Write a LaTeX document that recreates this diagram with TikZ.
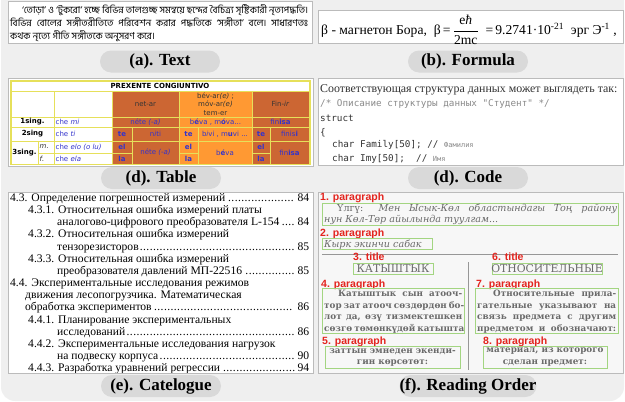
\documentclass[tikz,border=0pt]{standalone}
\usepackage{fontspec}
\setmainfont{Liberation Serif}
\newfontfamily\bnfont[Script=Bengali]{Hind Siliguri}
\newfontfamily\tblfont{DejaVu Sans}
\newfontfamily\codefont{DejaVu Sans Mono}
\newfontfamily\lblfont{Liberation Sans}
\newfontfamily\scanfont{DejaVu Serif}
\definecolor{bgc}{HTML}{EFEFEF}
\definecolor{pillc}{HTML}{D9D9D9}
\definecolor{panelc}{HTML}{BBBBBB}
\definecolor{tdark}{HTML}{CC6633}
\definecolor{tlight}{HTML}{FF9933}
\definecolor{tyel}{HTML}{E6E05A}
\definecolor{tblue}{HTML}{3333CC}
\definecolor{redc}{HTML}{E3241E}
\definecolor{grn}{HTML}{A3D581}
\definecolor{scan}{HTML}{6A6A6A}
\definecolor{cgray}{HTML}{8A8A8A}
\definecolor{ctext}{HTML}{333333}
\newcommand\tc[6]{\draw[tline,fill=#5] (#1,#2) rectangle (#3,#4); \node[ttext] at ({(#1+#3)/2},{(#2+#4)/2}) {#6};}
\newcommand\tcl[6]{\draw[tline,fill=#5] (#1,#2) rectangle (#3,#4); \node[ttext,anchor=west] at ({#1+1.5},{(#2+#4)/2}) {#6};}
\newcommand\mydots{\leaders\hbox to 3.3pt{\hss.\hss}\hfill}
\newcommand\tocl[4]{\node[cat] at (#1,#2) {\hbox to \dimexpr 309pt-#1pt\relax{#3\mydots\,#4}};}
\newcommand\toct[3]{\node[cat] at (#1,#2) {#3};}
\begin{document}
\begin{tikzpicture}[x=1pt,y=-1pt,
  panel/.style={draw=panelc, fill=white, line width=0.8pt},
  pill/.style={fill=pillc, rounded corners=11pt, minimum width=120pt, minimum height=22pt, inner sep=0pt, font=\fontsize{17}{17}\selectfont\bfseries},
  gbox/.style={draw=grn, line width=1pt},
  rlabel/.style={anchor=base west, inner sep=0pt, text=redc, font=\lblfont\bfseries\fontsize{10.5}{10.5}\selectfont},
  tline/.style={draw=tyel, line width=1pt},
  ttext/.style={inner sep=0pt, text=tblue, align=center, font=\tblfont\fontsize{7}{8.5}\selectfont},
  cat/.style={anchor=base west, inner sep=0pt, font=\fontsize{11.6}{13}\selectfont},
  code/.style={anchor=base west, inner sep=0pt, text=ctext, font=\codefont\fontsize{9.3}{10}\selectfont},
  scant/.style={anchor=base west, inner sep=0pt, text=scan, font=\scanfont\fontsize{9.6}{11}\selectfont},
  scanb/.style={anchor=base west, inner sep=0pt, text=scan, font=\scanfont\bfseries\fontsize{8.8}{11}\selectfont},
  scanc/.style={inner sep=0pt, text=scan, font=\scanfont\bfseries\fontsize{8.8}{11}\selectfont},
  rule/.style={draw=scan!70, line width=0.8pt}]
\useasboundingbox (0,0) rectangle (625,402);
\fill[bgc, rounded corners=14pt] (1,-30) rectangle (624,401);

% ---------------- (a) Text
\draw[panel] (8,1) rectangle (312,43);
\node[anchor=base west, inner sep=0pt] (bn1) at (22,13.5) {\bnfont\fontsize{9.6}{11}\selectfont\makebox[286pt][s]{‘তোড়া’ ও ‘টুকরো’ হচ্ছে বিভিন্ন তালগুচ্ছ সমন্বয়ে ছন্দের বৈচিত্র্য সৃষ্টিকারী নৃত্যপদ্ধতি।}};
\node[anchor=base west, inner sep=0pt] (bn2) at (10,26.5) {\bnfont\fontsize{9.6}{11}\selectfont\makebox[298pt][s]{বিভিন্ন বোলের সঙ্গীতরীতিতে পরিবেশন করার পদ্ধতিকে ‘সঙ্গীতা’ বলে। সাধারণতঃ}};
\node[anchor=base west, inner sep=0pt] (bn3) at (10,39) {\bnfont\fontsize{9.6}{11}\selectfont কথক নৃত্যে গীতি সঙ্গীতকে অনুসরণ করে।};
\node[pill] (capa) at (160,61.5) {(a). Text};

% ---------------- (b) Formula
\draw[panel] (318,10) rectangle (623,43);
\node[anchor=west, inner sep=0pt] (frm) at (321,30) {\fontsize{13.6}{15}\selectfont β - магнетон Бора,\ \ β\,=\,$\displaystyle\frac{\hbox{e\textit{ħ}}}{\hbox{2mc}}$\ \ =\,9.2741·10\textsuperscript{-21}\ \ эрг Э\textsuperscript{-1} ,};
\node[pill] (capb) at (468,61.5) {(b). Formula};

% ---------------- (d) Table
\draw[panel] (8,78) rectangle (313,166);
\draw[tline] (10,80) rectangle (310,164);
\tc{11}{81}{309}{91}{white}{\textcolor{black}{\bfseries PREXENTE CONGIUNTIVO}}
\tc{11}{91}{54}{117}{white}{}
\tc{54}{91}{112}{117}{white}{}
\tc{112}{91}{179}{117}{tdark}{\textcolor{ctext}{net-ar}}
\tc{179}{91}{252}{117}{tlight}{\textcolor{ctext}{bév-ar\textit{(e)} ;}\\\textcolor{ctext}{móv-ar\textit{(e)}}\\\textcolor{ctext}{tem-er}}
\tc{252}{91}{309}{117}{tdark}{\textcolor{ctext}{Fin-\textit{ir}}}
% row 1
\tc{11}{117}{54}{127}{white}{\textcolor{black}{\bfseries 1sing.}}
\tcl{54}{117}{112}{127}{white}{che \textit{mi}}
\tc{112}{117}{179}{127}{tdark}{néte \textit{(-a)}}
\tc{179}{117}{252}{127}{tlight}{b\textbf{é}va , m\textbf{ó}va...}
\tc{252}{117}{309}{127}{tdark}{fin\textbf{isa}}
% row 2
\tc{11}{127}{54}{141}{white}{\textcolor{black}{\bfseries 2sing}}
\tcl{54}{127}{112}{141}{white}{che \textit{ti}}
\tc{112}{127}{132}{141}{tdark}{\bfseries te}
\tc{132}{127}{179}{141}{tdark}{n\textit{i}ti}
\tc{179}{127}{198}{141}{tlight}{\bfseries te}
\tc{198}{127}{252}{141}{tlight}{b\textit{i}vi , m\textbf{u}vi ...}
\tc{252}{127}{270}{141}{tdark}{\bfseries te}
\tc{270}{127}{309}{141}{tdark}{finis\textbf{i}}
% row 3
\tc{11}{141}{38}{164}{white}{\textcolor{black}{\bfseries 3sing.}}
\tcl{38}{141}{54}{153}{white}{\textcolor{ctext}{\textit{m.}}}
\tcl{38}{153}{54}{164}{white}{\textcolor{ctext}{\textit{f.}}}
\tcl{54}{141}{112}{153}{white}{che \textit{elo (o lu)}}
\tcl{54}{153}{112}{164}{white}{che \textit{ela}}
\tc{112}{141}{132}{153}{tdark}{\bfseries el}
\tc{112}{153}{132}{164}{tdark}{\bfseries la}
\tc{132}{141}{179}{164}{tdark}{néte \textit{(-a)}}
\tc{179}{141}{198}{153}{tlight}{\bfseries el}
\tc{179}{153}{198}{164}{tlight}{\bfseries la}
\tc{198}{141}{252}{164}{tlight}{b\textbf{é}va}
\tc{252}{141}{270}{153}{tdark}{\bfseries el}
\tc{252}{153}{270}{164}{tdark}{\bfseries la}
\tc{270}{141}{309}{164}{tdark}{fin\textbf{isa}}
\node[pill] (capd) at (161,178) {(d). Table};

% ---------------- (d) Code
\draw[panel] (318,78) rectangle (623,165);
\node[anchor=base west, inner sep=0pt, text=ctext, font=\fontsize{11.9}{12}\selectfont] (c0) at (320,92) {Соответствующая структура данных может выглядеть так:};
\node[code, text=cgray] (c1) at (320,106.5) {/* Описание структуры данных "Студент" */};
\node[code] (c2) at (320,121) {struct};
\node[code] (c3) at (320,135) {\{};
\node[code] (c4) at (332,147.5) {char Family[50]; // {\fontsize{7}{8}\selectfont\color{cgray}Фамилия}};
\node[code] (c5) at (332,161.5) {char Imy[50];\ \ // {\fontsize{7}{8}\selectfont\color{cgray}Имя}};
\node[pill] (capc) at (468,178) {(d). Code};

% ---------------- (e) Catalogue
\draw[panel] (8,192) rectangle (313,373);
\begin{scope}
\clip (8.5,192.5) rectangle (312.5,372.6);
\tocl{10}{201.5}{4.3. Определение погрешностей измерений}{84}
\toct{28}{213.6}{4.3.1. Относительная ошибка измерений платы}
\tocl{57}{225.8}{аналогово-цифрового преобразователя L-154}{84}
\toct{28}{237.9}{4.3.2. Относительная ошибка измерений}
\tocl{57}{250.1}{тензорезисторов}{85}
\toct{28}{262.2}{4.3.3. Относительная ошибка измерений}
\tocl{57}{274.4}{преобразователя давлений МП-22516}{85}
\toct{10}{286.5}{4.4. Экспериментальные исследования режимов}
\toct{25}{298.7}{движения лесопогрузчика. Математическая}
\tocl{25}{310.8}{обработка экспериментов}{86}
\toct{28}{323.0}{4.4.1. Планирование экспериментальных}
\tocl{57}{335.1}{исследований}{86}
\toct{28}{347.3}{4.4.2. Экспериментальные исследования нагрузок}
\tocl{57}{359.4}{на подвеску корпуса}{90}
\tocl{28}{371.6}{4.4.3. Разработка уравнений регрессии}{94}
\end{scope}
\node[pill] (cape) at (161,386) {(e). Catelogue};

% ---------------- (f) Reading order
\draw[draw=panelc, fill=white!97!black, line width=0.8pt] (318,192) rectangle (623,373);
\node[rlabel] (l1) at (320,200) {1. paragraph};
\draw[gbox] (322,203) rectangle (618,225);
\node[scant] (p1a) at (324,211.5) {\makebox[293pt][s]{\hspace*{13pt}Үлгү: \textit{Мен Ысык-Көл областындагы Тоң району}}};
\node[scant] (p1b) at (324,222) {\textit{нун Көл-Төр айылында туулгам...}};
\node[rlabel] (l2) at (320,236) {2. paragraph};
\draw[gbox] (322,238) rectangle (432,249);
\node[scant] (p2) at (324,247) {\textit{Кырк экинчи сабак}};
\draw[rule] (322,254) -- (618,254);
\draw[rule] (468,262) -- (468,370);
\node[rlabel] (l3) at (353,260) {3. title};
\draw[gbox] (353,263) rectangle (433,274.5);
\node[text=scan, inner sep=0pt, font=\scanfont\fontsize{10.8}{11}\selectfont] (t3) at (393,269) {КАТЫШТЫК};
\node[rlabel] (l6) at (492,260) {6. title};
\draw[gbox] (492,263) rectangle (602,274.5);
\node[text=scan, inner sep=0pt, font=\scanfont\fontsize{10.8}{11}\selectfont] (t6) at (547,269) {ОТНОСИТЕЛЬНЫЕ};
\node[rlabel] (l4) at (321,287) {4. paragraph};
\draw[gbox] (322,288) rectangle (464,333);
\node[scanb] (p4a) at (324,296.5) {\makebox[138pt][s]{\hspace*{14pt}Катыштык сын атооч-}};
\node[scanb] (p4b) at (324,308) {\makebox[138pt][s]{тор зат атооч сөздөрдөн бо-}};
\node[scanb] (p4c) at (324,319.5) {\makebox[138pt][s]{лот да, өзү тизмектешкен}};
\node[scanb] (p4d) at (324,331) {\makebox[138pt][s]{сөзгө төмөнкүдөй катышта}};
\node[rlabel] (l7) at (476,287) {7. paragraph};
\draw[gbox] (475,288) rectangle (618,333);
\node[scanb] (p7a) at (477,296.5) {\makebox[139pt][s]{\hspace*{16pt}Относительные прила-}};
\node[scanb] (p7b) at (477,308) {\makebox[139pt][s]{гательные указывают на}};
\node[scanb] (p7c) at (477,319.5) {\makebox[139pt][s]{связь предмета с другим}};
\node[scanb] (p7d) at (477,331) {\makebox[139pt][s]{предметом и обозначают:}};
\node[rlabel] (l5) at (322,344) {5. paragraph};
\draw[gbox] (325,346) rectangle (460,368);
\node[scanc] (p5a) at (392.5,351.5) {заттын эмнеден экенди-};
\node[scanc] (p5b) at (392.5,363) {гин көрсөтөт:};
\node[rlabel] (l8) at (483,344) {8. paragraph};
\draw[gbox] (483,346) rectangle (607,368);
\node[scanc] (p8a) at (545,351.5) {материал, из которого};
\node[scanc] (p8b) at (545,363) {сделан предмет:};
\node[pill] (capf) at (468,386) {(f). Reading Order};
\end{tikzpicture}
\end{document}
